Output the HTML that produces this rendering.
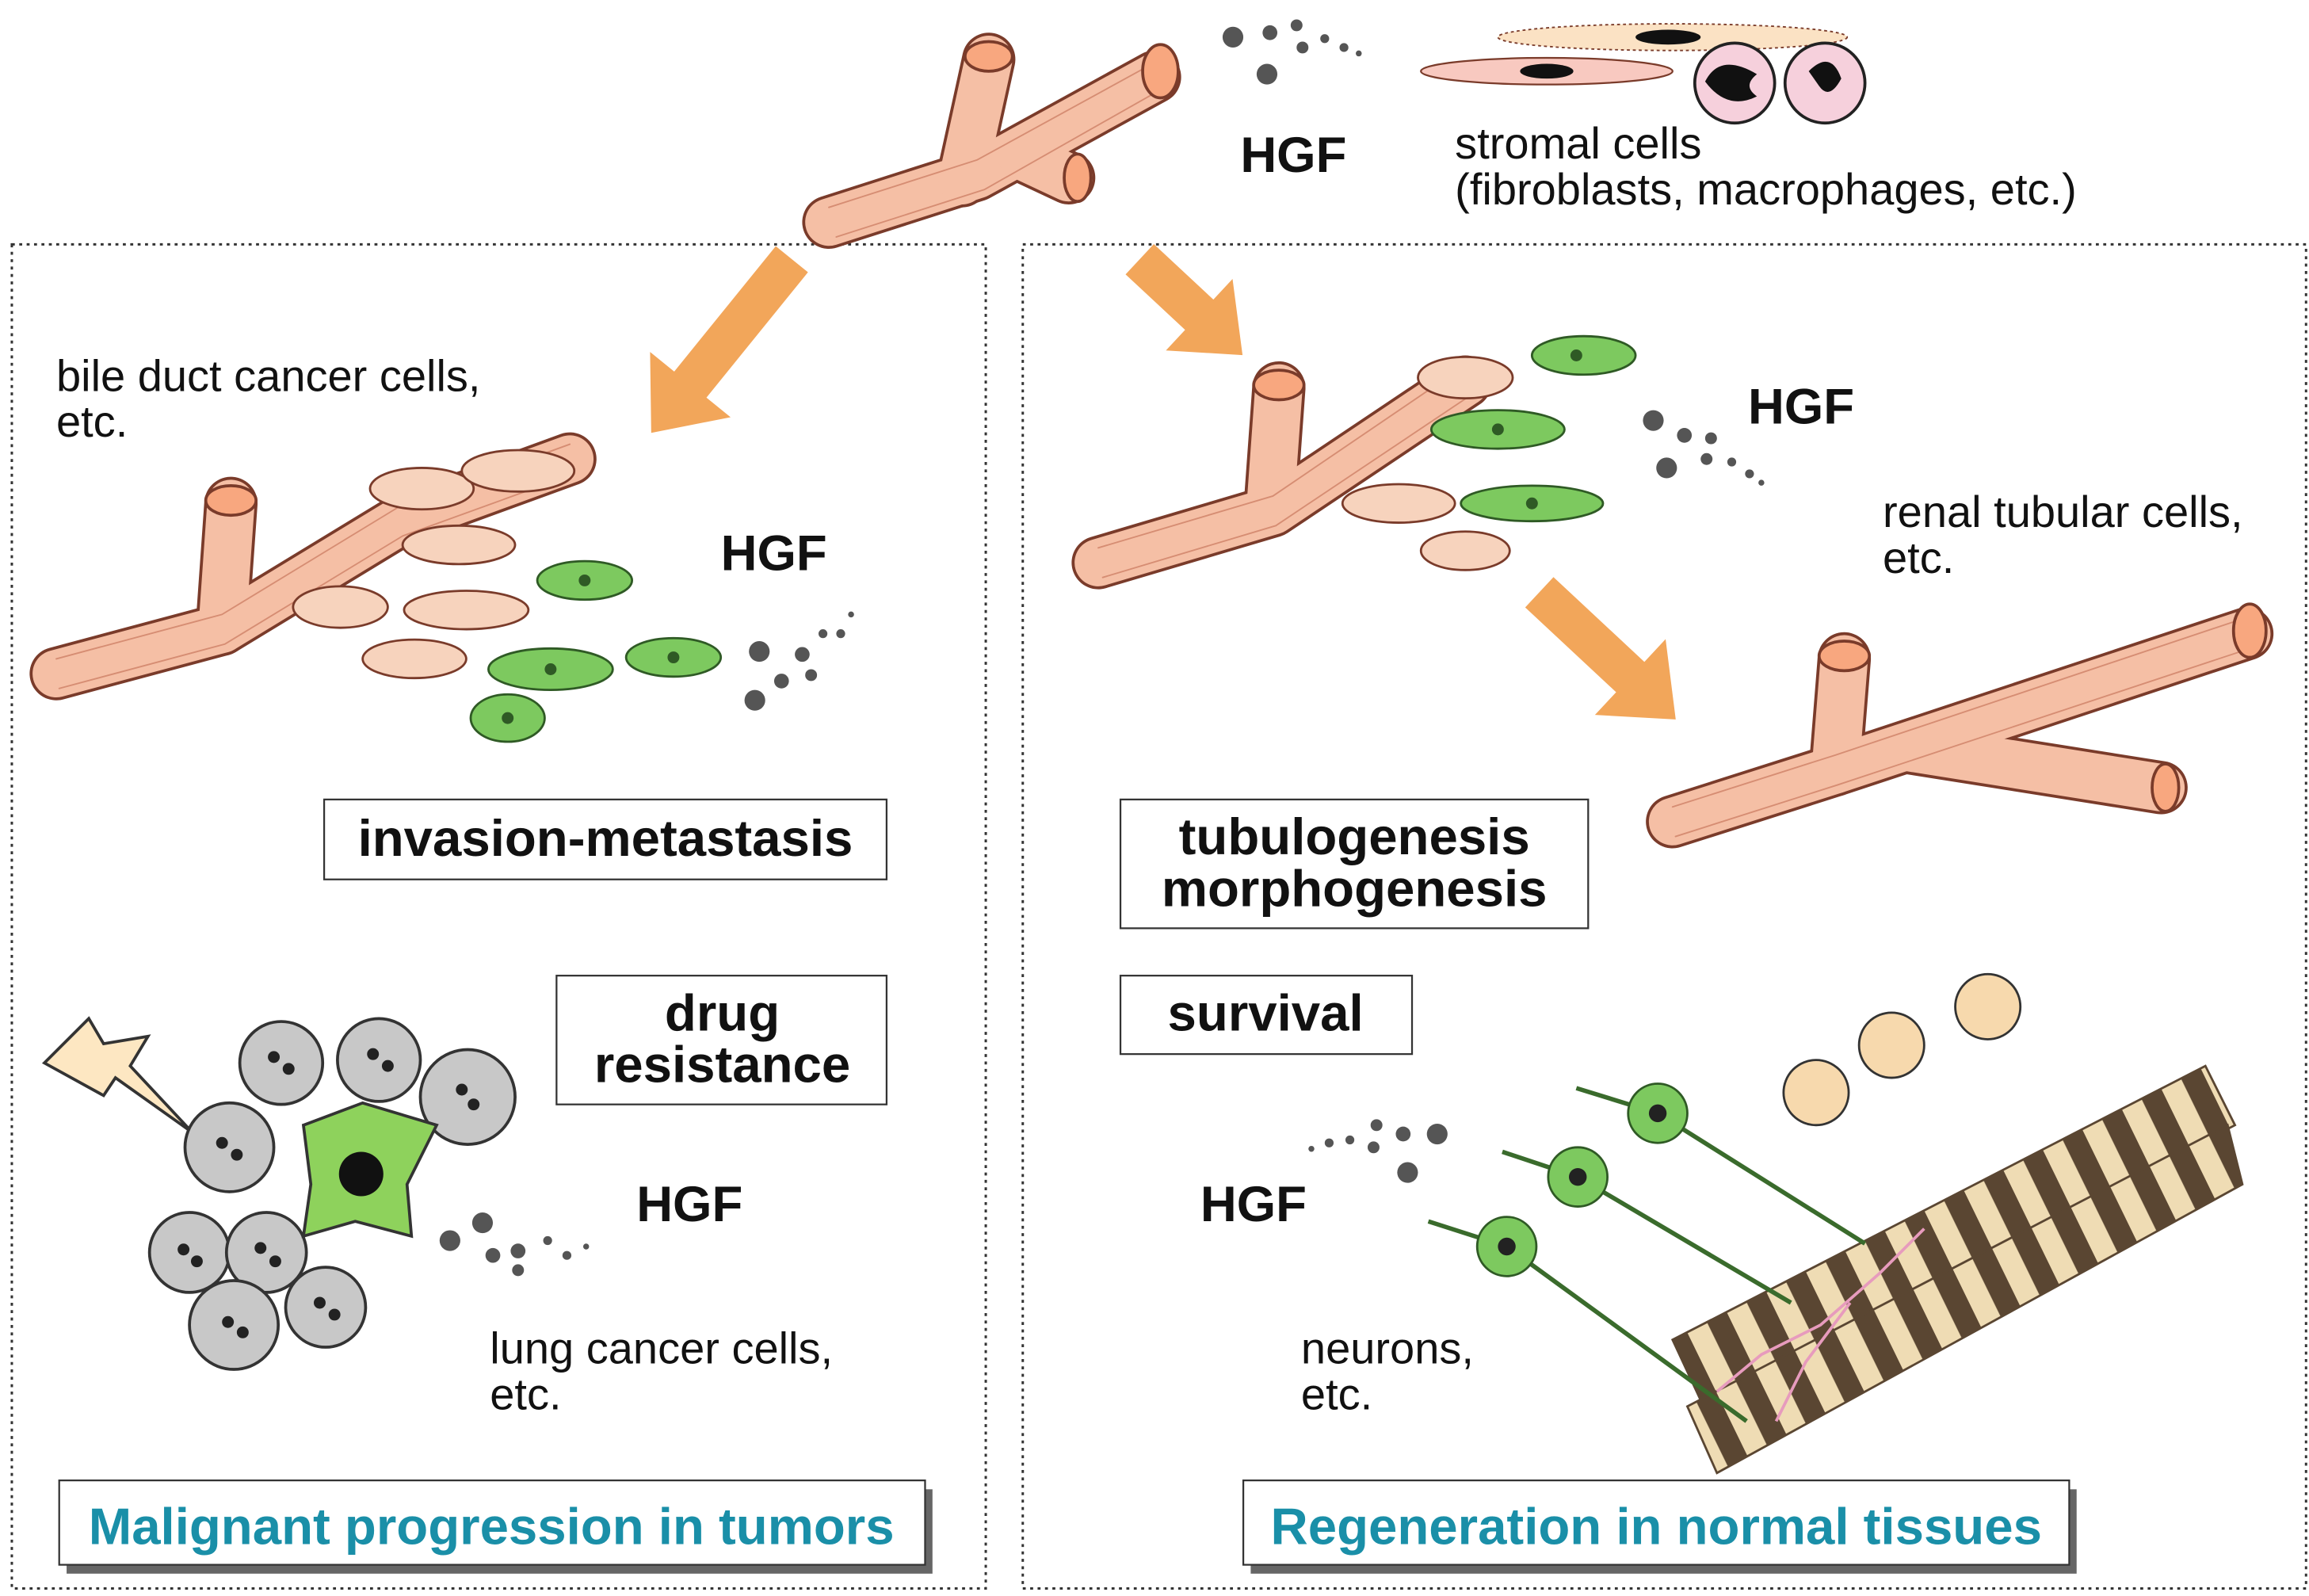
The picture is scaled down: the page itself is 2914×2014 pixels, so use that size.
<!DOCTYPE html>
<html><head><meta charset="utf-8"><style>
html,body{margin:0;padding:0;background:#fff;}
svg{display:block;}
text{font-family:"Liberation Sans",Arial,sans-serif;}
</style></head><body>
<svg width="2914" height="2014" viewBox="0 0 1560 1078" xmlns="http://www.w3.org/2000/svg">
<defs>
<pattern id="musc" width="30" height="30" patternUnits="userSpaceOnUse" patternTransform="rotate(-26)">
<rect width="30" height="30" fill="#efdcb4"/><rect x="15" width="15" height="30" fill="#5a4632"/></pattern>
</defs>
<!-- dotted boxes -->
<rect x="8" y="165" width="658" height="908" fill="none" stroke="#333" stroke-width="1.6" stroke-dasharray="2,3"/>
<rect x="691" y="165" width="867" height="908" fill="none" stroke="#333" stroke-width="1.6" stroke-dasharray="2,3"/>

<!-- tubes -->
<g fill="none" stroke-linecap="round" stroke-linejoin="round">
 <g stroke="#7a3b2a" stroke-width="36">
  <path d="M560,150 L660,118 L780,52"/><path d="M650,122 L668,40"/><path d="M690,105 L722,120"/>
  <path d="M38,455 L150,425 L270,352 L385,310"/><path d="M150,425 L156,340"/>
  <path d="M742,380 L860,345 L990,258"/><path d="M858,345 L864,262"/>
  <path d="M1130,555 L1240,520 L1518,428"/><path d="M1290,505 L1460,532"/><path d="M1240,520 L1246,445"/>
 </g>
 <g stroke="#f5bfa5" stroke-width="32">
  <path d="M560,150 L660,118 L780,52"/><path d="M650,122 L668,40"/><path d="M690,105 L722,120"/>
  <path d="M38,455 L150,425 L270,352 L385,310"/><path d="M150,425 L156,340"/>
  <path d="M742,380 L860,345 L990,258"/><path d="M858,345 L864,262"/>
  <path d="M1130,555 L1240,520 L1518,428"/><path d="M1290,505 L1460,532"/><path d="M1240,520 L1246,445"/>
 </g>
 <g stroke="#c9785e" stroke-width="1" opacity="0.7">
  <path d="M560,140 L660,108 L775,45"/><path d="M565,160 L665,128 L785,60"/>
  <path d="M38,445 L150,415 L270,342 L385,300"/><path d="M40,465 L152,435 L272,362 L388,320"/>
  <path d="M742,370 L860,335 L985,250"/><path d="M745,390 L862,355 L995,266"/>
  <path d="M1130,545 L1240,510 L1515,418"/><path d="M1132,565 L1242,530 L1520,438"/>
 </g>
</g>
<g fill="#f8a77f" stroke="#7a3b2a" stroke-width="2">
 <ellipse cx="668" cy="38" rx="16" ry="10"/><ellipse cx="784" cy="48" rx="12" ry="18"/><ellipse cx="728" cy="120" rx="9" ry="16"/>
 <ellipse cx="156" cy="338" rx="17" ry="10"/><ellipse cx="864" cy="260" rx="17" ry="10"/>
 <ellipse cx="1246" cy="443" rx="17" ry="10"/><ellipse cx="1520" cy="426" rx="11" ry="18"/><ellipse cx="1463" cy="532" rx="9" ry="16"/>
</g>

<!-- cells pale -->
<g fill="#f7d3bd" stroke="#7a3b2a" stroke-width="1.5">
 <ellipse cx="285" cy="330" rx="35" ry="14"/><ellipse cx="350" cy="318" rx="38" ry="14"/><ellipse cx="310" cy="368" rx="38" ry="13"/>
 <ellipse cx="230" cy="410" rx="32" ry="14"/><ellipse cx="315" cy="412" rx="42" ry="13"/><ellipse cx="280" cy="445" rx="35" ry="13"/>
 <ellipse cx="990" cy="255" rx="32" ry="14"/><ellipse cx="945" cy="340" rx="38" ry="13"/><ellipse cx="990" cy="372" rx="30" ry="13"/>
</g>
<g fill="#7dc95f" stroke="#2f5a25" stroke-width="1.5">
 <ellipse cx="395" cy="392" rx="32" ry="13"/><ellipse cx="372" cy="452" rx="42" ry="14"/><ellipse cx="455" cy="444" rx="32" ry="13"/><ellipse cx="343" cy="485" rx="25" ry="16"/>
 <ellipse cx="1070" cy="240" rx="35" ry="13"/><ellipse cx="1012" cy="290" rx="45" ry="13"/><ellipse cx="1035" cy="340" rx="48" ry="12"/>
</g>
<g fill="#2f5a25"><circle cx="395" cy="392" r="4"/><circle cx="372" cy="452" r="4"/><circle cx="455" cy="444" r="4"/><circle cx="343" cy="485" r="4"/><circle cx="1065" cy="240" r="4"/><circle cx="1012" cy="290" r="4"/><circle cx="1035" cy="340" r="4"/></g>

<!-- orange arrows -->
<g fill="#f2a65a">
 <path transform="translate(535,175) rotate(129)" d="M0,-14 L109,-14 L109,-35 L151,0 L109,35 L109,14 L0,14z"/>
 <path transform="translate(770,175) rotate(43)" d="M0,-14 L55,-14 L55,-33 L95,0 L55,33 L55,14 L0,14z"/>
 <path transform="translate(1040,400) rotate(43)" d="M0,-14 L84,-14 L84,-35 L126,0 L84,35 L84,14 L0,14z"/>
</g>

<!-- HGF dots -->
<g fill="#555">
 <circle cx="833" cy="25" r="7"/><circle cx="856" cy="50" r="7"/><circle cx="858" cy="22" r="5"/><circle cx="876" cy="17" r="4"/><circle cx="880" cy="32" r="4"/><circle cx="895" cy="26" r="3"/><circle cx="908" cy="32" r="3"/><circle cx="918" cy="36" r="2"/>
 <circle cx="513" cy="440" r="7"/><circle cx="510" cy="473" r="7"/><circle cx="528" cy="460" r="5"/><circle cx="542" cy="442" r="5"/><circle cx="548" cy="456" r="4"/><circle cx="556" cy="428" r="3"/><circle cx="568" cy="428" r="3"/><circle cx="575" cy="415" r="2"/>
 <circle cx="1117" cy="284" r="7"/><circle cx="1126" cy="316" r="7"/><circle cx="1138" cy="294" r="5"/><circle cx="1156" cy="296" r="4"/><circle cx="1153" cy="310" r="4"/><circle cx="1170" cy="312" r="3"/><circle cx="1182" cy="320" r="3"/><circle cx="1190" cy="326" r="2"/>
 <circle cx="304" cy="838" r="7"/><circle cx="326" cy="826" r="7"/><circle cx="333" cy="848" r="5"/><circle cx="350" cy="845" r="5"/><circle cx="350" cy="858" r="4"/><circle cx="370" cy="838" r="3"/><circle cx="383" cy="848" r="3"/><circle cx="396" cy="842" r="2"/>
 <circle cx="971" cy="766" r="7"/><circle cx="951" cy="792" r="7"/><circle cx="948" cy="766" r="5"/><circle cx="930" cy="760" r="4"/><circle cx="928" cy="775" r="4"/><circle cx="912" cy="770" r="3"/><circle cx="898" cy="772" r="3"/><circle cx="886" cy="776" r="2"/>
</g>

<!-- stromal cells -->
<ellipse cx="1130" cy="25" rx="118" ry="9" fill="#fbe2c4" stroke="#7a3b2a" stroke-width="1" stroke-dasharray="2,2"/>
<ellipse cx="1127" cy="25" rx="22" ry="5" fill="#111"/>
<ellipse cx="1045" cy="48" rx="85" ry="9" fill="#f8c9c0" stroke="#7a3b2a" stroke-width="1.2"/>
<ellipse cx="1045" cy="48" rx="18" ry="5" fill="#111"/>
<circle cx="1172" cy="56" r="27" fill="#f6d0dc" stroke="#222" stroke-width="2"/><circle cx="1233" cy="56" r="27" fill="#f6d0dc" stroke="#222" stroke-width="2"/>
<path d="M1152,55 q10,-20 35,-5 q-10,8 0,15 q-20,10 -35,-10z" fill="#111"/><path d="M1222,48 q15,-15 22,5 q-8,15 -15,5z" fill="#111"/>

<!-- lightning + grey cells -->
<path d="M30,718 L60,688 L70,705 L100,700 L88,720 L130,765 L78,728 L70,740z" fill="#fde7c2" stroke="#333" stroke-width="2"/>
<g fill="#c8c8c8" stroke="#333" stroke-width="2">
 <circle cx="190" cy="718" r="28"/><circle cx="256" cy="716" r="28"/><circle cx="316" cy="741" r="32"/><circle cx="155" cy="775" r="30"/>
 <circle cx="128" cy="846" r="27"/><circle cx="180" cy="846" r="27"/><circle cx="158" cy="895" r="30"/><circle cx="220" cy="883" r="27"/>
</g>
<path d="M205,760 L245,745 L295,760 L275,800 L278,835 L240,825 L205,835 L210,800z" fill="#8ed25c" stroke="#333" stroke-width="2"/>
<circle cx="244" cy="793" r="15" fill="#111"/>
<g fill="#222">
 <circle cx="185" cy="714" r="4"/><circle cx="195" cy="722" r="4"/><circle cx="252" cy="712" r="4"/><circle cx="262" cy="720" r="4"/><circle cx="312" cy="736" r="4"/><circle cx="320" cy="746" r="4"/><circle cx="150" cy="772" r="4"/><circle cx="160" cy="780" r="4"/><circle cx="124" cy="844" r="4"/><circle cx="133" cy="852" r="4"/><circle cx="176" cy="843" r="4"/><circle cx="186" cy="852" r="4"/><circle cx="154" cy="893" r="4"/><circle cx="164" cy="900" r="4"/><circle cx="216" cy="880" r="4"/><circle cx="226" cy="888" r="4"/>
</g>

<!-- muscle fibers -->
<g stroke="#5a4632" stroke-width="1.5">
 <path d="M1130,905 L1490,720 L1510,760 L1150,948z" fill="url(#musc)"/>
 <path d="M1140,950 L1505,760 L1515,800 L1160,995z" fill="url(#musc)"/>
</g>
<g stroke="#e79bbd" stroke-width="2" fill="none"><path d="M1160,940 L1190,915 L1230,895 L1270,860 L1300,830"/><path d="M1200,960 L1220,920 L1250,880"/></g>
<!-- neurons -->
<g stroke="#3a6b2c" stroke-width="3" fill="none"><path d="M1018,842 L1180,960"/><path d="M1066,795 L1210,880"/><path d="M1120,752 L1260,840"/><path d="M1018,842 L965,825"/><path d="M1066,795 L1015,778"/><path d="M1120,752 L1065,735"/></g>
<g fill="#7dc95f" stroke="#2f5a25" stroke-width="1.5"><circle cx="1018" cy="842" r="20"/><circle cx="1066" cy="795" r="20"/><circle cx="1120" cy="752" r="20"/></g>
<g fill="#222"><circle cx="1018" cy="842" r="6"/><circle cx="1066" cy="795" r="6"/><circle cx="1120" cy="752" r="6"/></g>
<g fill="#f7d9ad" stroke="#333" stroke-width="1.5"><circle cx="1227" cy="738" r="22"/><circle cx="1278" cy="706" r="22"/><circle cx="1343" cy="680" r="22"/></g>

<!-- text -->
<g font-weight="bold" font-size="34" fill="#111">
 <text x="838" y="116">HGF</text><text x="487" y="385">HGF</text><text x="430" y="825">HGF</text><text x="1181" y="286">HGF</text><text x="811" y="825">HGF</text>
</g>
<g font-size="30" fill="#111">
 <text x="983" y="107">stromal cells</text><text x="983" y="138">(fibroblasts, macrophages, etc.)</text>
 <text x="38" y="264">bile duct cancer cells,</text><text x="38" y="295">etc.</text>
 <text x="1272" y="356">renal tubular cells,</text><text x="1272" y="387">etc.</text>
 <text x="331" y="921">lung cancer cells,</text><text x="331" y="952">etc.</text>
 <text x="879" y="921">neurons,</text><text x="879" y="952">etc.</text>
</g>
<g fill="#fff" stroke="#333" stroke-width="1.2">
 <rect x="219" y="540" width="380" height="54"/><rect x="376" y="659" width="223" height="87"/>
 <rect x="757" y="540" width="316" height="87"/><rect x="757" y="659" width="197" height="53"/>
</g>
<g font-weight="bold" font-size="35" fill="#111" text-anchor="middle">
 <text x="409" y="578">invasion-metastasis</text>
 <text x="488" y="696">drug</text><text x="488" y="731">resistance</text>
 <text x="915" y="577">tubulogenesis</text><text x="915" y="612">morphogenesis</text>
 <text x="855" y="696">survival</text>
</g>
<rect x="45" y="1006" width="585" height="57" fill="#666"/>
<rect x="40" y="1000" width="585" height="57" fill="#fff" stroke="#333" stroke-width="1.2"/>
<rect x="845" y="1006" width="558" height="57" fill="#666"/>
<rect x="840" y="1000" width="558" height="57" fill="#fff" stroke="#333" stroke-width="1.2"/>
<g font-weight="bold" font-size="35" fill="#1a8fa8" text-anchor="middle">
 <text x="332" y="1043">Malignant progression in tumors</text>
 <text x="1119" y="1043">Regeneration in normal tissues</text>
</g>
</svg>
</body></html>
